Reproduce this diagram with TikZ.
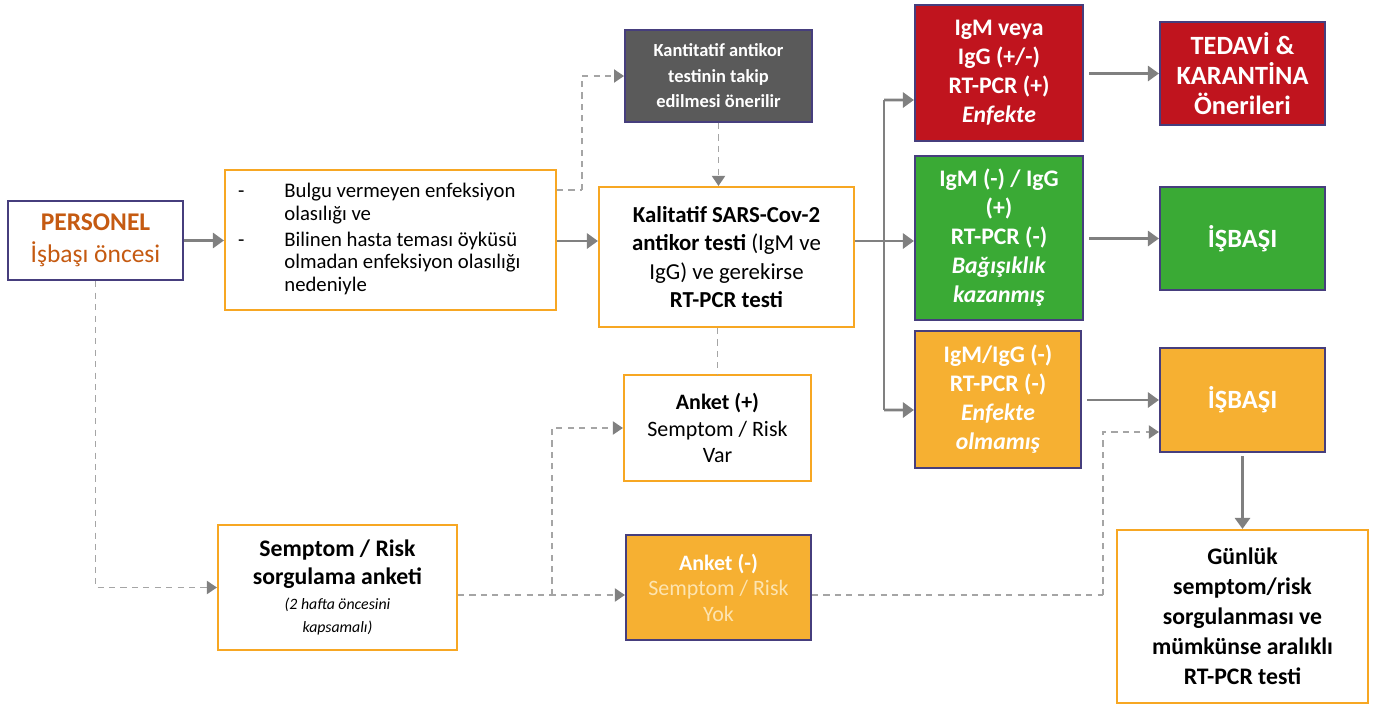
\documentclass[tikz,border=0pt]{standalone}
\usepackage{fontspec}
\setmainfont{Carlito}
\usetikzlibrary{arrows.meta, positioning, calc}
\definecolor{framepurple}{RGB}{70,62,125}
\definecolor{frameorange}{RGB}{247,167,35}
\definecolor{flowgray}{RGB}{128,128,128}
\definecolor{dashgray}{RGB}{165,165,165}
\definecolor{infectred}{RGB}{192,20,30}
\definecolor{immunegreen}{RGB}{58,170,53}
\definecolor{cleanorange}{RGB}{246,176,50}
\definecolor{notegray}{RGB}{90,90,90}
\definecolor{staffbrown}{RGB}{197,90,17}
\definecolor{palecream}{RGB}{253,228,176}

\begin{document}
\begin{tikzpicture}[>=Triangle,
    plainbox/.style={rectangle, draw=frameorange, line width=1.2pt, fill=white, align=center, inner sep=2pt},
    staffbox/.style={rectangle, draw=framepurple, line width=1.4pt, fill=white, align=center, minimum width=3.5cm, minimum height=1.58cm},
    colorbox/.style={rectangle, draw=framepurple, line width=1.2pt, align=center, text=white, font=\fontsize{13.5}{16.5}\selectfont\bfseries},
    arrow/.style={line width=1.6pt, draw=flowgray, -{Triangle[length=0.22cm, width=0.3cm]}},
    flowline/.style={line width=1.6pt, draw=flowgray},
    dasharrow/.style={line width=1.1pt, draw=dashgray, dash pattern=on 3.5pt off 3pt, -{Triangle[length=0.2cm, width=0.26cm, color=flowgray]}},
    dashline/.style={line width=1.1pt, draw=dashgray, dash pattern=on 3.5pt off 3pt}]

    \useasboundingbox (0,0) rectangle (27.62,-14.14);

    % Left column
    \node[staffbox, text=staffbrown, font=\fontsize{14.5}{18}\selectfont] (personel) at (1.91,-4.81) {\textbf{PERSONEL}\\ İşbaşı öncesi};
    \node[plainbox, minimum width=6.62cm, minimum height=2.8cm, font=\fontsize{11.8}{12.8}\selectfont] (bulgu) at (7.81,-4.80)
        {\begin{tabular}{@{}l@{\hspace{0.8cm}}l@{}}
        - & Bulgu vermeyen enfeksiyon\\
          & olasılığı ve\\[2pt]
        - & Bilinen hasta teması öyküsü\\
          & olmadan enfeksiyon olasılığı\\
          & nedeniyle
        \end{tabular}\hspace{0.45cm}};
    \node[plainbox, minimum width=4.78cm, minimum height=2.5cm, font=\fontsize{13.5}{16}\selectfont\bfseries] (sorgu) at (6.75,-11.75)
        {Semptom / Risk\\[0pt] sorgulama anketi\\[-2pt]
         {\fontsize{9}{12}\selectfont\mdseries\itshape (2 hafta öncesini}\\[-3pt] {\fontsize{9}{12}\selectfont\mdseries\itshape kapsamalı)}};

    % Middle column
    \node[rectangle, draw=framepurple, line width=1.1pt, fill=notegray, text=white, align=center, minimum width=3.74cm, minimum height=1.84cm, font=\fontsize{10.5}{14.5}\selectfont\bfseries] (kantitatif) at (14.37,-1.52)
        {Kantitatif antikor\\ testinin takip\\ edilmesi önerilir};
    \node[plainbox, minimum width=5.1cm, minimum height=2.8cm, font=\fontsize{13}{16}\selectfont] (kalitatif) at (14.53,-5.14)
        {\textbf{Kalitatif SARS-Cov-2}\\ \textbf{antikor testi} (IgM ve\\ IgG) ve gerekirse\\ \textbf{RT-PCR testi}};
    \node[plainbox, minimum width=3.74cm, minimum height=2.12cm, font=\fontsize{12.5}{15}\selectfont] (anketp) at (14.35,-8.56)
        {\textbf{Anket (+)}\\ Semptom / Risk\\ Var};
    \node[colorbox, fill=cleanorange, minimum width=3.7cm, minimum height=2.1cm, font=\fontsize{12.5}{14.5}\selectfont] (anketn) at (14.37,-11.75)
        {\textbf{Anket (-)}\\ \color{palecream}Semptom / Risk\\ \color{palecream}Yok};

    % Result column
    \node[colorbox, fill=infectred, minimum width=3.36cm, minimum height=2.72cm] (red) at (19.98,-1.46)
        {IgM veya\\ IgG (+/-)\\ RT-PCR (+)\\ \textit{Enfekte}};
    \node[colorbox, fill=immunegreen, minimum width=3.36cm, minimum height=3.28cm] (green) at (19.98,-4.76)
        {IgM (-) / IgG\\ (+)\\ RT-PCR (-)\\ \textit{Bağışıklık}\\ \textit{kazanmış}};
    \node[colorbox, fill=cleanorange, minimum width=3.32cm, minimum height=2.74cm] (orange) at (19.96,-7.99)
        {IgM/IgG (-)\\ RT-PCR (-)\\ \textit{Enfekte}\\ \textit{olmamış}};

    % Outcome column
    \node[colorbox, fill=infectred, minimum width=3.3cm, minimum height=2.06cm, font=\fontsize{15}{17}\selectfont\bfseries] (tedavi) at (24.85,-1.47)
        {TEDAVİ \&\\ KARANTİNA\\ Önerileri};
    \node[colorbox, fill=immunegreen, minimum width=3.3cm, minimum height=2.06cm, font=\fontsize{15}{17}\selectfont\bfseries] (isbasione) at (24.85,-4.77) {İŞBAŞI};
    \node[colorbox, fill=cleanorange, minimum width=3.3cm, minimum height=2.08cm, font=\fontsize{15}{17}\selectfont\bfseries] (isbasitwo) at (24.85,-8.0) {İŞBAŞI};
    \node[plainbox, minimum width=5.02cm, minimum height=3.46cm, font=\fontsize{13.5}{17}\selectfont\bfseries] (gunluk) at (24.85,-12.33)
        {Günlük\\ semptom/risk\\ sorgulanması ve\\ mümkünse aralıklı\\ RT-PCR testi};

    \coordinate (fork) at (17.68,-4.82);
    \coordinate (split) at (11.04,-11.9);
    \coordinate (bend) at (22.06,-11.9);
    \coordinate (hop) at (11.64,-3.8);

    % Solid flows
    \draw[arrow] (personel.east) -- (bulgu.west |- personel.east);
    \draw[arrow] (bulgu.east |- fork) -- (kalitatif.west |- fork);
    \draw[flowline] (kalitatif.east |- fork) -- (fork);
    \draw[flowline] ([yshift=2.82cm]fork) -- ([yshift=-3.38cm]fork);
    \draw[arrow] ([yshift=2.82cm]fork) -- ([yshift=-0.54cm]red.west);
    \draw[arrow] (fork) -- (green.west |- fork);
    \draw[arrow] ([yshift=-3.38cm]fork) -- ([yshift=-0.21cm]orange.west);
    \draw[arrow] ([xshift=0.1cm]red.east |- tedavi.west) -- (tedavi.west);
    \draw[arrow] ([xshift=0.1cm]green.east |- isbasione.west) -- (isbasione.west);
    \draw[arrow] ([xshift=0.1cm]orange.east |- isbasitwo.west) -- (isbasitwo.west);
    \draw[arrow] ([yshift=-0.06cm]isbasitwo.south) -- (gunluk.north);

    % Dashed flows
    \draw[dashline] (bulgu.east |- hop) -- (hop);
    \draw[dasharrow] (hop) |- (kantitatif.west);
    \draw[dasharrow] (kantitatif.south) -- (kantitatif.south |- kalitatif.north);
    \draw[dashline] (anketp.north |- kalitatif.south) -- (anketp.north);
    \draw[dasharrow] (personel.south) |- (sorgu.west);
    \draw[dasharrow] ([yshift=-0.15cm]sorgu.east) -- ([yshift=-0.15cm]anketn.west);
    \draw[dasharrow] (split) |- (anketp.west);
    \draw[dashline] ([yshift=-0.15cm]anketn.east) -- (bend);
    \draw[dasharrow] (bend) |- ([yshift=-0.64cm]isbasitwo.west);
\end{tikzpicture}
\end{document}
